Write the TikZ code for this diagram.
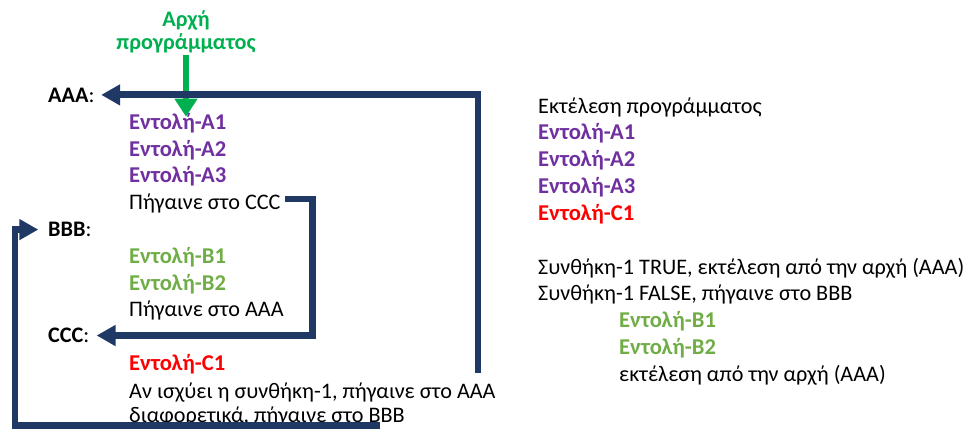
\documentclass[tikz,border=0pt]{standalone}
\usepackage{fontspec}
\setmainfont{Carlito}
\usetikzlibrary{arrows.meta}
\definecolor{navy}{HTML}{203864}
\definecolor{startgreen}{HTML}{00B050}
\definecolor{cmdpurple}{HTML}{7030A0}
\definecolor{cmdgreen}{HTML}{70AD47}
\definecolor{cmdred}{HTML}{FF0000}

\begin{document}
\begin{tikzpicture}[x=1pt,y=-1pt,
  txt/.style={inner sep=0pt,anchor=base west,font=\fontsize{22.2}{26}\selectfont},
  cmd/.style={txt,font=\fontsize{22.6}{26}\selectfont\bfseries},
  cmdA/.style={cmd,text=cmdpurple},
  cmdB/.style={cmd,text=cmdgreen},
  cmdC/.style={cmd,text=cmdred},
  startlbl/.style={inner sep=0pt,anchor=base,text=startgreen,font=\fontsize{22.2}{26}\selectfont\bfseries},
  jump/.style={draw=navy,line width=6.8pt,line join=miter,-{Triangle[length=19pt,width=20pt]}},
  startarrow/.style={draw=startgreen,line width=6.8pt,-{Triangle[length=18pt,width=22pt]}},
]
\useasboundingbox (0,0) rectangle (971,428);

% program listing
\node[startlbl] (start1) at (186,27) {Αρχή};
\node[startlbl] (start2) at (186,50) {προγράμματος};

\node[txt] (aaa) at (48,102) {\textbf{AAA}:};
\node[cmdA] (a1) at (129,129.5) {Εντολή-A1};
\node[cmdA] (a2) at (129,156) {Εντολή-A2};
\node[cmdA] (a3) at (129,182.5) {Εντολή-A3};
\node[txt] (gotoC) at (129,209) {Πήγαινε στο CCC};
\node[txt] (bbb) at (48,236.7) {\textbf{BBB}:};
\node[cmdB] (b1) at (129,263.3) {Εντολή-B1};
\node[cmdB] (b2) at (129,290) {Εντολή-B2};
\node[txt] (gotoA) at (129,316.7) {Πήγαινε στο AAA};
\node[txt] (ccc) at (48,342.7) {\textbf{CCC}:};
\node[cmdC] (c1) at (129,370.7) {Εντολή-C1};
\node[txt] (cond) at (129,398) {Αν ισχύει η συνθήκη-1, πήγαινε στο AAA};
\node[txt] (els) at (129,422.7) {διαφορετικά, πήγαινε στο BBB};

% execution trace
\node[txt] (r0) at (538,113) {Εκτέλεση προγράμματος};
\node[cmdA] (r1) at (538,139) {Εντολή-A1};
\node[cmdA] (r2) at (538,166.7) {Εντολή-A2};
\node[cmdA] (r3) at (538,193.3) {Εντολή-A3};
\node[cmdC] (r4) at (538,220) {Εντολή-C1};
\node[txt] (r5) at (538,274) {Συνθήκη-1 TRUE, εκτέλεση από την αρχή (AAA)};
\node[txt] (r6) at (538,300.7) {Συνθήκη-1 FALSE, πήγαινε στο BBB};
\node[cmdB] (r7) at (619,327) {Εντολή-B1};
\node[cmdB] (r8) at (619,354) {Εντολή-B2};
\node[txt] (r9) at (619,381.7) {εκτέλεση από την αρχή (AAA)};

% jumps
\coordinate (startTip) at (186,116.7);
\draw[startarrow] ([yshift=-1pt]start2.south) -- (startTip);

\coordinate (jA) at (478,372.7);
\draw[jump] (jA) |- ([xshift=6.5pt]aaa.east);

\coordinate (cx) at (312.5,0);
\draw[jump] ([xshift=4pt,yshift=10pt]gotoC.base east) -| (cx |- ccc.east) -- ([xshift=7pt]ccc.east);

\coordinate (bStart) at (380,425.5);
\coordinate (bx) at (15,0);
\draw[jump] (bStart) -| (bx |- bbb.west) -- ([xshift=-9.7pt]bbb.west);
\end{tikzpicture}
\end{document}
